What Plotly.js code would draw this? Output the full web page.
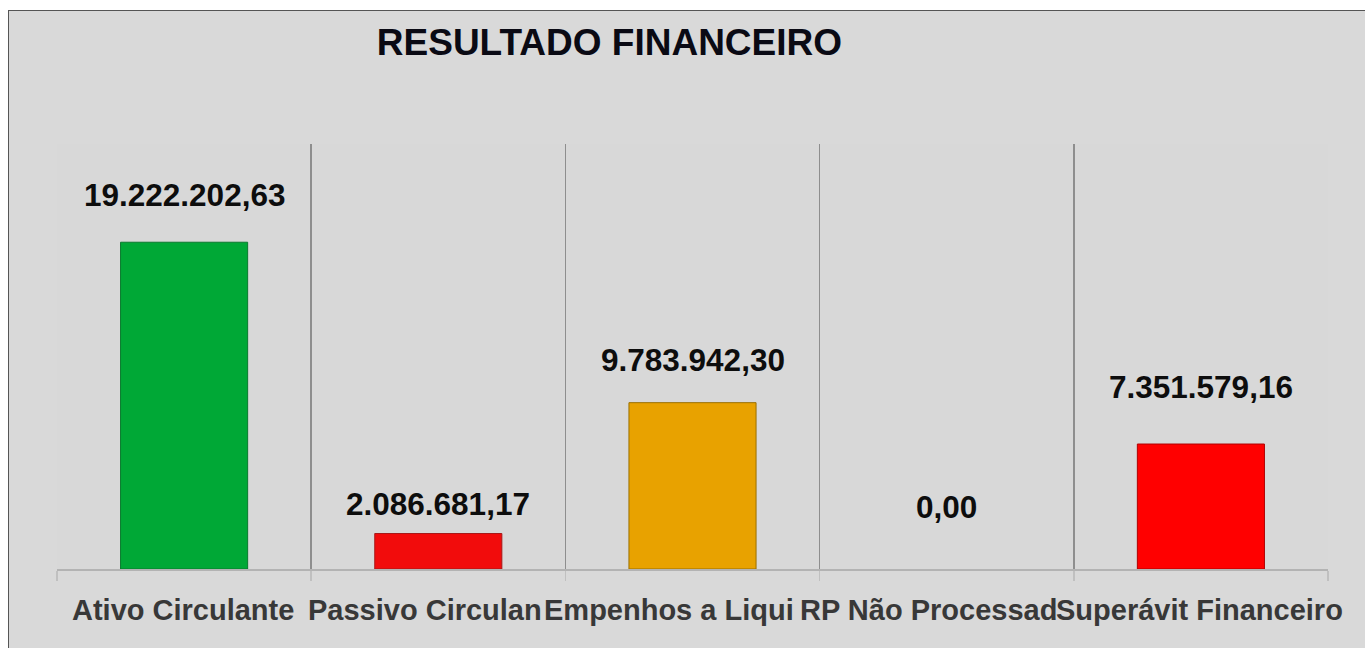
<!DOCTYPE html>
<html>
<head>
<meta charset="utf-8">
<script src="https://cdn.plot.ly/plotly-3.0.1.min.js"></script>
<style>
  html, body { margin: 0; padding: 0; background: #ffffff; width: 1365px; height: 648px; overflow: hidden; }
  #frame { position: absolute; left: 8px; top: 10px; width: 1400px; height: 700px; border: 1px solid #555555; background: #d9d9d9; }
  #chart { position: absolute; left: 9px; top: 11px; width: 1356px; height: 637px; }
</style>
</head>
<body>
<div id="frame"></div>
<div id="chart"></div>
<script>
// ---- data ----
const categories = ["Ativo Circulante", "Passivo Circulante", "Empenhos a Liquidar", "RP Não Processados", "Superávit Financeiro"];
const values = [19222202.63, 2086681.17, 9783942.30, 0.00, 7351579.16];
const chartTitle = "RESULTADO FINANCEIRO";

// ---- styles ----
const barColors = ["#00a836", "#f20c0c", "#e8a200", "#ff0000", "#ff0000"];
const barLines = ["#0b7a2e", "#a81818", "#9c7000", "#b00000", "#b00000"];
const labelShift = [47, 30, 43, 62, 57];
const FONT = "Liberation Sans, Arial, sans-serif";
const catFontSize = 29;

const W = 1356, H = 637;
const margin = { l: 48, r: 37, t: 133, b: 79 };

function fmtBR(v) {
  const fixed = v.toFixed(2);
  const parts = fixed.split(".");
  const intPart = parts[0].replace(/\B(?=(\d{3})+(?!\d))/g, ".");
  return intPart + "," + parts[1];
}

// Excel-style category labels: each centred on its category; a label that
// runs into the next one is cut where the next label starts.
const cv = document.createElement("canvas").getContext("2d");
cv.font = "bold " + catFontSize + "px 'Liberation Sans', Arial, sans-serif";
const measure = s => cv.measureText(s).width;
const labelW = categories.map(measure);
const catStep = (W - margin.l - margin.r) / categories.length;

const trace = {
  type: "bar",
  x: categories,
  y: values,
  width: 0.5,
  marker: {
    color: barColors,
    line: { color: barLines, width: values.map(v => (v === 0 ? 0 : 1)) }
  },
  hoverinfo: "skip"
};

const annotations = [];
categories.forEach((c, i) => {
  annotations.push({
    x: c, y: values[i], xref: "x", yref: "y",
    text: "<b>" + fmtBR(values[i]) + "</b>",
    showarrow: false, yanchor: "middle", xanchor: "center",
    yshift: labelShift[i],
    font: { family: FONT, size: 31.5, color: "#0d0d0d" }
  });
});
categories.forEach((c, i) => {
  const left = -labelW[i] / 2;
  let avail = labelW[i];
  if (i < categories.length - 1) {
    const nextLeft = catStep - labelW[i + 1] / 2;
    avail = Math.min(avail, nextLeft - left);
  }
  let shown = c;
  while (shown.length > 1 && measure(shown) > avail + 3.5) shown = shown.slice(0, -1);
  annotations.push({
    x: c, y: 0, xref: "x", yref: "paper",
    text: "<b>" + shown + "</b>",
    showarrow: false, yanchor: "middle", xanchor: "left", align: "left",
    xshift: left - 2,
    yshift: -41,
    borderpad: 0,
    font: { family: FONT, size: catFontSize, color: "#383838" }
  });
});

const layout = {
  width: W, height: H,
  margin: margin,
  paper_bgcolor: "#d9d9d9",
  plot_bgcolor: "#d8d8d8",
  showlegend: false,
  title: {
    text: "<b>" + chartTitle + "</b>",
    xref: "container", yref: "container",
    x: 0.4428, xanchor: "center",
    y: 0.951, yanchor: "middle",
    font: { family: FONT, size: 37, color: "#0a0a14" }
  },
  xaxis: {
    type: "category",
    range: [-0.5, 4.5],
    tickson: "boundaries",
    showgrid: true, gridcolor: "#8e8e8e", gridwidth: 1.5,
    showline: true, linecolor: "#b3b3b3", linewidth: 1.5,
    ticks: "outside", ticklen: 10, tickcolor: "#c0c0c0", tickwidth: 1.5,
    showticklabels: false, zeroline: false, fixedrange: true
  },
  yaxis: {
    range: [0, 25000000],
    showgrid: false, showticklabels: false, zeroline: false, showline: false, fixedrange: true
  },
  annotations: annotations
};

Plotly.newPlot("chart", [trace], layout, { displayModeBar: false, staticPlot: true });
</script>
</body>
</html>
